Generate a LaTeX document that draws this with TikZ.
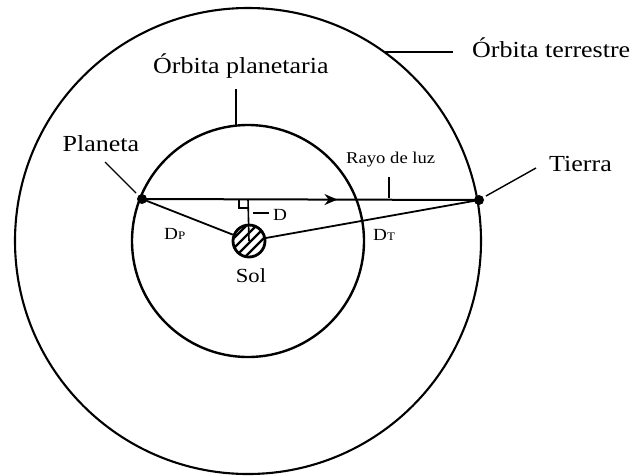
\documentclass[tikz,border=0pt]{standalone}
\usepackage{fontspec}
\setmainfont[FakeStretch=1.13]{Liberation Serif}
\usetikzlibrary{arrows.meta,decorations.markings}
\begin{document}
\begin{tikzpicture}[x=1pt,y=-1pt,
  orbit/.style={line width=2.1pt},
  leader/.style={line width=1.4pt},
  big/.style={inner sep=0pt, anchor=base west, font=\fontsize{23}{26}\selectfont},
  mid/.style={inner sep=0pt, anchor=base west, font=\fontsize{17}{20}\selectfont},
  dot/.style={circle, fill=black, inner sep=0pt, minimum size=10pt}]
\useasboundingbox[fill=white] (0,0) rectangle (634,475);
\coordinate (C) at (248,241);
% orbits
\draw[orbit] (C) circle[radius=233];
\draw[orbit, line width=2.4pt] (C) circle[radius=116];
% bodies
\node[dot] (planet) at (142,199) {};
\node[dot] (earth) at (479,200) {};
\node[circle, draw, line width=2.8pt, minimum size=32pt, inner sep=0pt] (sun) at (249,241) {};
\begin{scope}
  \clip (249,241) circle[radius=15];
  \foreach \k in {-18,-8,2,12} \draw[line width=2.4pt] (249+\k-20,241+20) -- ++(40,-40);
\end{scope}
% ray of light
\draw[line width=2pt, postaction={decorate},
  decoration={markings, mark=at position 0.58 with {\arrow{Stealth[length=13pt,width=11pt]}}}]
  (planet.center) -- (earth.center);
% distances
\draw[line width=1.8pt] (planet.center) -- (sun);
\draw[line width=1.8pt] (sun) -- (earth.center);
\coordinate (foot) at (248,199);
\draw[line width=1.6pt] (foot) -- (sun.center);
\draw[leader] (239,199) -- (239,208) -- (248,208);
% labels
\node[big] (lterr) at (472,57.5) {Órbita terrestre};
\coordinate (terrA) at (384,52); \coordinate (terrB) at (453,52);
\draw[leader] (terrA) -- (terrB);
\node[big] (lplan) at (153,73.5) {Órbita planetaria};
\coordinate (planA) at (236,89); \coordinate (planB) at (236,125);
\draw[leader] (planA) -- (planB);
\node[big] (lplaneta) at (62.5,151.5) {Planeta};
\coordinate (plA) at (105,162); \coordinate (plB) at (136,193);
\draw[leader] (plA) -- (plB);
\node[big] (ltierra) at (549,171.5) {Tierra};
\coordinate (tiA) at (486,196); \coordinate (tiB) at (536,168);
\draw[leader] (tiA) -- (tiB);
\node[mid, font=\fontsize{16.5}{20}\selectfont] (lrayo) at (346,163.3) {Rayo de luz};
\coordinate (raA) at (389,177); \coordinate (raB) at (389,198);
\draw[leader] (raA) -- (raB);
\node[mid] (lD) at (273,220) {D};
\coordinate (dA) at (253,213); \coordinate (dB) at (269,213);
\draw[leader] (dA) -- (dB);
\node[mid] (lDP) at (164,239) {D{\fontsize{11.5}{12}\selectfont P}};
\node[mid] (lDT) at (373,240) {D{\fontsize{11.5}{12}\selectfont T}};
\node[inner sep=0pt, anchor=base, font=\fontsize{20}{22}\selectfont] (lsol) at (251,282) {Sol};
\end{tikzpicture}
\end{document}
